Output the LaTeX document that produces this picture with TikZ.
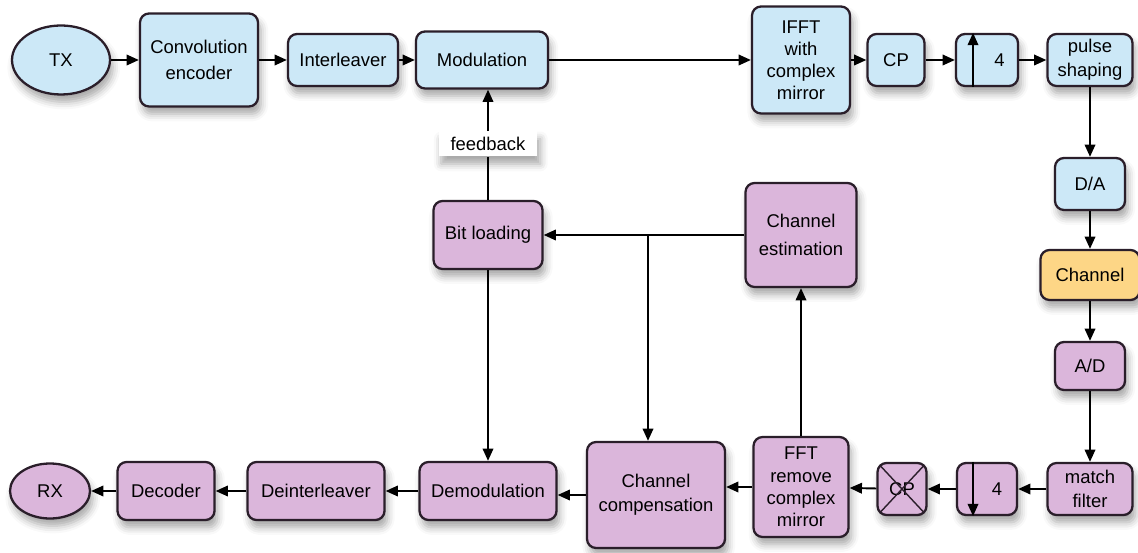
\documentclass[tikz,border=0pt]{standalone}
\usepackage{fontspec}
\setmainfont{Liberation Sans}
\usetikzlibrary{arrows.meta,shapes.geometric,shadows.blur}

\definecolor{txblue}{RGB}{204,232,247}
\definecolor{rxpink}{RGB}{219,182,219}
\definecolor{chorange}{RGB}{253,214,134}
\definecolor{edge}{RGB}{42,30,42}

\tikzset{
  soft/.style={blur shadow={shadow xshift=0.3ex, shadow yshift=-0.8ex, shadow opacity=35, shadow blur radius=0.8ex}},
  blk/.style={draw=edge, line width=1.3pt, rounded corners=0.18cm, align=center, inner sep=1pt, soft,
    font=\fontsize{10.5}{13.5}\selectfont},
  txblk/.style={blk, fill=txblue},
  rxblk/.style={blk, fill=rxpink},
  endpt/.style={ellipse, draw=edge, line width=1.3pt, inner sep=0pt, soft, font=\fontsize{10.5}{13.5}\selectfont},
  link/.style={line width=1.1pt, -{Triangle[length=7pt,width=6pt]}},
}

\begin{document}
\begin{tikzpicture}[x=0.02cm, y=-0.02cm]
  % Picture frame
  \useasboundingbox (0,0) rectangle (1138,553);

  % Transmitter chain
  \node[endpt, fill=txblue, minimum width=1.96cm, minimum height=1.38cm] (tx) at (61,60) {TX};
  \node[txblk, minimum width=2.36cm, minimum height=1.86cm, font=\fontsize{10.5}{15}\selectfont] (conv) at (199,60) {Convolution\\encoder};
  \node[txblk, minimum width=2.2cm, minimum height=1.04cm] (inter) at (343,60) {Interleaver};
  \node[txblk, minimum width=2.64cm, minimum height=1.14cm] (mod) at (482,60) {Modulation};
  \node[txblk, minimum width=1.96cm, minimum height=2.14cm, font=\fontsize{10.5}{12.5}\selectfont] (ifft) at (801,60) {IFFT\\with\\complex\\mirror};
  \node[txblk, minimum width=1.14cm, minimum height=1.04cm] (cp) at (896,60) {CP};
  \node[txblk, minimum width=1.24cm, minimum height=1.04cm] (up) at (987,60) {\hspace*{0.5cm}4};
  \node[txblk, minimum width=1.7cm, minimum height=1.04cm] (pulse) at (1090,60) {pulse\\shaping};

  % Up-sampling arrow
  \draw[link] ([xshift=-0.28cm]up.south) -- ([xshift=-0.28cm]up.north);

  % Through the channel
  \node[txblk, minimum width=1.4cm, minimum height=1.04cm] (da) at (1090,184) {D/A};
  \node[blk, fill=chorange, minimum width=1.98cm, minimum height=1.0cm] (chan) at (1090,275) {Channel};
  \node[rxblk, minimum width=1.4cm, minimum height=0.96cm] (ad) at (1090,366) {A/D};

  % Receiver chain
  \node[rxblk, minimum width=1.7cm, minimum height=1.04cm] (match) at (1090,489) {match\\filter};
  \node[rxblk, minimum width=1.2cm, minimum height=1.04cm] (down) at (987,489) {\hspace*{0.4cm}4};
  \node[rxblk, minimum width=0.98cm, minimum height=1.04cm] (cpx) at (902,489) {CP};
  \node[rxblk, minimum width=1.9cm, minimum height=2.0cm, font=\fontsize{10.5}{12.8}\selectfont] (fft) at (801,487) {FFT\\remove\\complex\\mirror};
  \node[rxblk, minimum width=2.76cm, minimum height=2.12cm] (comp) at (656,495) {Channel\\compensation};
  \node[rxblk, minimum width=2.74cm, minimum height=1.16cm] (demod) at (488,491) {Demodulation};
  \node[rxblk, minimum width=2.74cm, minimum height=1.16cm] (deint) at (316,491) {Deinterleaver};
  \node[rxblk, minimum width=1.94cm, minimum height=1.16cm] (dec) at (166,491) {Decoder};
  \node[endpt, fill=rxpink, minimum width=1.6cm, minimum height=1.1cm] (rx) at (50,491) {RX};

  % Down-sampling arrow and removed CP
  \draw[link] ([xshift=-0.28cm]down.north) -- ([xshift=-0.28cm]down.south);
  \draw[edge, line width=0.8pt] ([shift={(0.09cm,-0.09cm)}]cpx.north west) -- ([shift={(-0.09cm,0.09cm)}]cpx.south east);
  \draw[edge, line width=0.8pt] ([shift={(-0.09cm,-0.09cm)}]cpx.north east) -- ([shift={(0.09cm,0.09cm)}]cpx.south west);

  % Estimation and bit loading
  \node[rxblk, minimum width=2.18cm, minimum height=1.36cm] (bit) at (488,235) {Bit loading};
  \node[rxblk, minimum width=2.22cm, minimum height=2.08cm, font=\fontsize{10.5}{16}\selectfont] (chest) at (801,235) {Channel\\estimation};
  \node[fill=white, soft, minimum width=1.98cm, minimum height=0.5cm, inner sep=0pt,
    font=\fontsize{10.5}{12}\selectfont] (fb) at (488,144) {feedback};
  \coordinate (br) at (648,235);

  % Forward links
  \draw[link] (tx) -- (conv);
  \draw[link] (conv) -- (inter);
  \draw[link] (inter) -- (mod);
  \draw[link] (mod) -- (ifft);
  \draw[link] (ifft) -- (cp);
  \draw[link] (cp) -- (up);
  \draw[link] (up) -- (pulse);
  \draw[link] (pulse) -- (da);
  \draw[link] (da) -- (chan);
  \draw[link] (chan) -- (ad);
  \draw[link] (ad) -- (match);
  \draw[link] (match) -- (down);
  \draw[link] (down) -- (cpx);
  \draw[link] (cpx) -- (fft);
  \draw[link] (fft.west) -- (fft.west -| comp.east);
  \draw[link] (comp.west) -- (comp.west -| demod.east);
  \draw[link] (demod) -- (deint);
  \draw[link] (deint) -- (dec);
  \draw[link] (dec) -- (rx);

  % Feedback links
  \draw[link] (fft) -- (chest);
  \draw[link] (chest) -- (bit);
  \draw[link] (br) -- (br |- comp.north);
  \draw[link] (bit) -- (demod);
  \draw[line width=1.1pt] (bit) -- (fb);
  \draw[link] (fb) -- (fb |- mod.south);
\end{tikzpicture}
\end{document}
